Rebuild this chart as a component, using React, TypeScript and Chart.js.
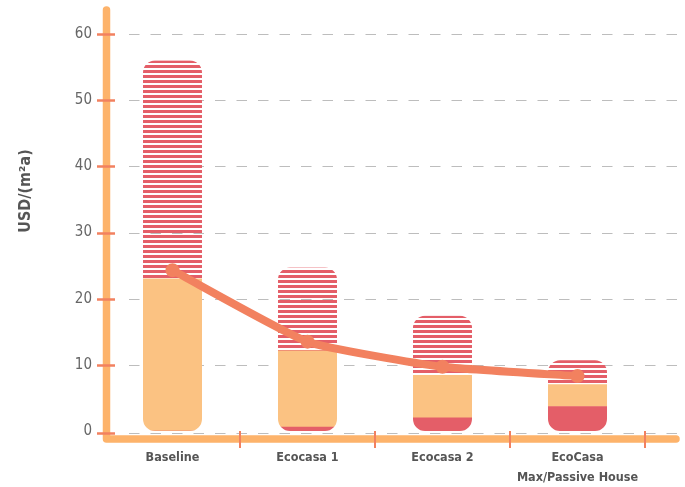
import React, { useEffect, useRef } from "react";
import { Chart, registerables } from "chart.js";

Chart.register(...registerables);

// ---- data ----
const categories: (string | string[])[] = ["Baseline", "Ecocasa 1", "Ecocasa 2", ["EcoCasa", "Max/Passive House"]];
const darkValues = [0, 0.6, 2.0, 3.7];
const peachValues = [23.0, 11.5, 6.4, 3.3];
const stripedValues = [33.0, 12.6, 9.0, 3.7];
const lineValues = [24.3, 13.5, 9.7, 8.3];
const yTicks = [0, 10, 20, 30, 40, 50, 60];
const yTitle = "USD/(m²a)";

// ---- style ----
const RED = "#E45E68";
const PEACH = "#FBC282";
const LINE = "#F2815F";
const AXIS = "#FDB36B";
const TICK = "#F2815F";
const FONT = "'Liberation Sans Narrow', 'DejaVu Sans Condensed', sans-serif";

export default function App() {
  const ref = useRef<HTMLCanvasElement>(null);
  useEffect(() => {
    document.body.style.margin = "0";
    const canvas = ref.current!;
    const stripeCanvas = document.createElement("canvas");
    stripeCanvas.width = 4;
    stripeCanvas.height = 5;
    const sctx = stripeCanvas.getContext("2d")!;
    sctx.fillStyle = RED;
    sctx.fillRect(0, 0, 4, 3);
    const pattern = canvas.getContext("2d")!.createPattern(stripeCanvas, "repeat")!;

    const gridY = (scale: any, v: number) => Math.round(scale.getPixelForValue(v)) + (v === 0 ? 2 : 0) + 0.5;

    const decor = {
      id: "decor",
      beforeDatasetsDraw(chart: any) {
        const { ctx, chartArea, scales } = chart;
        ctx.save();
        ctx.strokeStyle = "#bdbdbd";
        ctx.lineWidth = 1;
        ctx.setLineDash([10.5, 11]);
        for (const v of yTicks) {
          const py = gridY(scales.y, v);
          ctx.beginPath();
          ctx.moveTo(chartArea.left + 24, py);
          ctx.lineTo(chart.width, py);
          ctx.stroke();
        }
        ctx.restore();
      },
      beforeDatasetDraw(chart: any, args: any) {
        if (args.meta.type !== "bar") return;
        const ctx = chart.ctx;
        const metas = chart.getSortedVisibleDatasetMetas().filter((m: any) => m.type === "bar");
        ctx.save();
        ctx.beginPath();
        const n = metas[0].data.length;
        for (let i = 0; i < n; i++) {
          const els = metas.map((m: any) => m.data[i]);
          const x = els[0].x;
          const w = els[0].width;
          const base = chart.scales.y.getPixelForValue(0);
          let top = base;
          for (const e of els) top = Math.min(top, e.y);
          ctx.roundRect(x - w / 2, top, w, base - top, 12);
        }
        ctx.clip();
      },
      afterDatasetDraw(chart: any, args: any) {
        if (args.meta.type !== "bar") return;
        chart.ctx.restore();
      },
      afterDatasetsDraw(chart: any) {
        const { ctx, chartArea, scales } = chart;
        const x0 = chartArea.left + 1.5;
        const yb = chartArea.bottom + 8;
        ctx.save();
        // axes
        ctx.strokeStyle = AXIS;
        ctx.lineWidth = 7.5;
        ctx.lineCap = "round";
        ctx.lineJoin = "round";
        ctx.beginPath();
        ctx.moveTo(x0, chartArea.top - 24);
        ctx.lineTo(x0, yb);
        ctx.lineTo(chart.width - 9, yb);
        ctx.stroke();
        // y ticks
        ctx.strokeStyle = TICK;
        ctx.lineCap = "butt";
        ctx.lineWidth = 2.5;
        for (const v of yTicks) {
          const py = gridY(scales.y, v);
          ctx.beginPath();
          ctx.moveTo(chartArea.left - 8, py);
          ctx.lineTo(chartArea.left + 10, py);
          ctx.stroke();
        }
        // x ticks at category boundaries
        ctx.lineWidth = 2;
        const xs = scales.x;
        const half = (xs.getPixelForValue(1) - xs.getPixelForValue(0)) / 2;
        for (let i = 0; i < categories.length; i++) {
          const px = xs.getPixelForValue(i) + half;
          ctx.beginPath();
          ctx.moveTo(px, chartArea.bottom);
          ctx.lineTo(px, chartArea.bottom + 17);
          ctx.stroke();
        }
        // y title
        ctx.translate(26, 191);
        ctx.rotate(-Math.PI / 2);
        ctx.fillStyle = "#555";
        ctx.font = `bold 16px ${FONT}`;
        ctx.textAlign = "center";
        ctx.textBaseline = "middle";
        ctx.fillText(yTitle, 0, 0);
        ctx.restore();
      },
    };

    const barCommon = { type: "bar" as const, stack: "s", order: 1, barThickness: 59, borderWidth: 0, borderSkipped: false };
    const chart = new Chart(canvas, {
      type: "bar",
      data: {
        labels: categories as any,
        datasets: [
          { ...barCommon, label: "dark", data: darkValues, backgroundColor: RED },
          { ...barCommon, label: "peach", data: peachValues, backgroundColor: PEACH },
          { ...barCommon, label: "striped", data: stripedValues, backgroundColor: pattern as any },
          {
            type: "line",
            label: "line",
            order: 0,
            data: lineValues,
            borderColor: LINE,
            backgroundColor: LINE,
            borderWidth: 8,
            pointRadius: 7,
            pointBorderWidth: 0,
            pointBackgroundColor: LINE,
            tension: 0.15,
            borderCapStyle: "round",
            clip: false,
          } as any,
        ],
      },
      options: {
        responsive: false,
        animation: false,
        layout: { padding: { top: 34, right: 40, left: 0, bottom: 0 } },
        plugins: { legend: { display: false }, tooltip: { enabled: false } },
        scales: {
          x: {
            stacked: true,
            grid: { display: false, drawTicks: false },
            border: { display: false },
            ticks: {
              autoSkip: false,
              maxRotation: 0,
              padding: 17,
              color: "#555",
              font: { family: FONT, size: 12.5, weight: "bold", lineHeight: 1.6 },
            },
            afterFit: (s: any) => { s.height = 56; },
          },
          y: {
            stacked: true,
            min: 0,
            max: 60,
            grid: { display: false, drawTicks: false },
            border: { display: false },
            ticks: {
              stepSize: 10,
              padding: 13,
              color: "#666",
              font: { family: FONT, size: 15 },
            },
            afterFit: (s: any) => { s.width = 105; },
          },
        },
      },
      plugins: [decor],
    });
    return () => chart.destroy();
  }, []);
  return (
    <div style={{ width: 685, height: 487 }}>
      <canvas ref={ref} width={685} height={487} style={{ display: "block" }} />
    </div>
  );
}
